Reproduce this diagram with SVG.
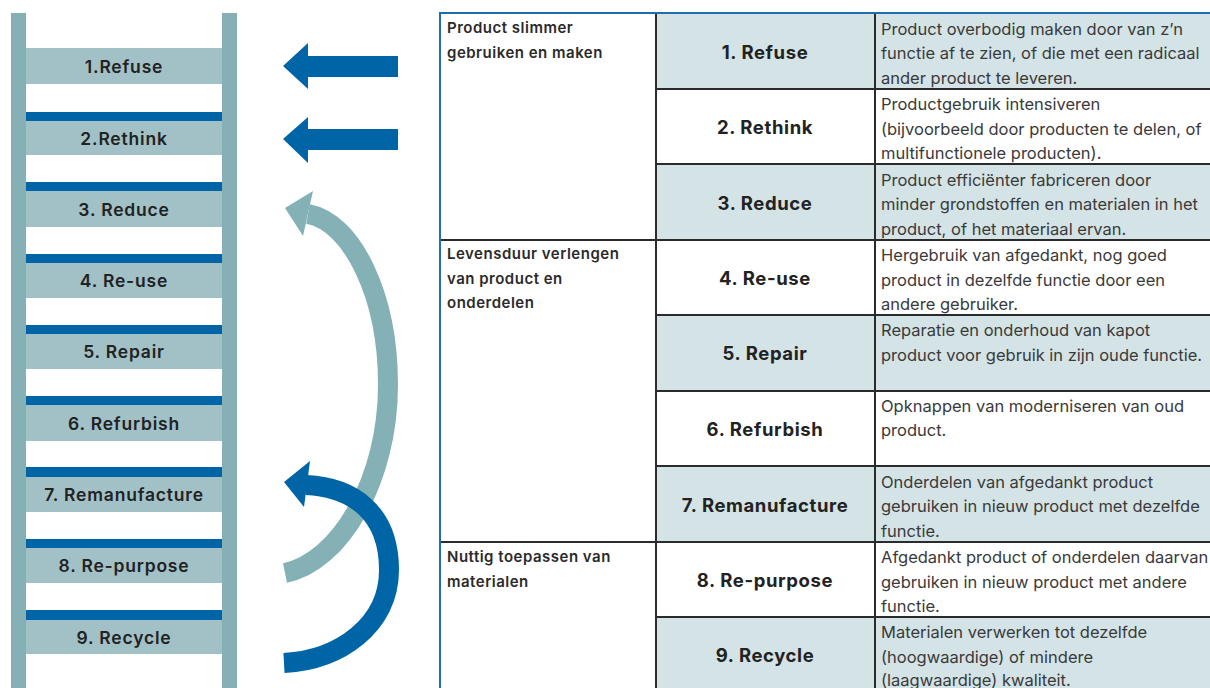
<svg xmlns="http://www.w3.org/2000/svg" width="1210" height="688" viewBox="0 0 1210 688">
<style>
.rail{fill:#84b0b6}
.box{fill:#a1c1c7}
.bar{fill:#0065a6}
.lad{font-family:Inter,"Noto Sans",sans-serif;font-weight:600;font-size:17.5px;letter-spacing:0.8px;fill:#222;text-anchor:middle}
.shade{fill:#d4e3e6}
.grid{stroke:#2b2b2b;stroke-width:2;fill:none}
.edge{stroke:#1f6cae;stroke-width:2;fill:none}
.c1{font-family:Inter,"Noto Sans",sans-serif;font-weight:600;font-size:15px;letter-spacing:0.5px;fill:#2a2a2a}
.c2{font-family:Inter,"Noto Sans",sans-serif;font-weight:700;font-size:18.5px;letter-spacing:0.6px;fill:#222;text-anchor:middle}
.c3{font-family:Inter,"Noto Sans",sans-serif;font-weight:400;font-size:16.5px;fill:#3a3a3a}
.tealarc{stroke:#84b1b6;stroke-width:20;fill:none}
.bluearc{stroke:#0065a6;stroke-width:20;fill:none}
</style>
<rect width="1210" height="688" fill="#fff"/>
<g id="ladder">
<g id="rung1"><rect class="box" x="26" y="48" width="196" height="36"/><text class="lad" x="124" y="72.5">1.Refuse</text></g>
<g id="rung2"><rect class="bar" x="24" y="112" width="199" height="9"/><rect class="box" x="26" y="121" width="196" height="34"/><text class="lad" x="124" y="144.5">2.Rethink</text></g>
<g id="rung3"><rect class="bar" x="24" y="182" width="199" height="9"/><rect class="box" x="26" y="191" width="196" height="36"/><text class="lad" x="124" y="215.5">3. Reduce</text></g>
<g id="rung4"><rect class="bar" x="24" y="254" width="199" height="9"/><rect class="box" x="26" y="263" width="196" height="35"/><text class="lad" x="124" y="287">4. Re-use</text></g>
<g id="rung5"><rect class="bar" x="24" y="325" width="199" height="9"/><rect class="box" x="26" y="334" width="196" height="35"/><text class="lad" x="124" y="358">5. Repair</text></g>
<g id="rung6"><rect class="bar" x="24" y="396" width="199" height="9"/><rect class="box" x="26" y="405" width="196" height="36"/><text class="lad" x="124" y="429.5">6. Refurbish</text></g>
<g id="rung7"><rect class="bar" x="24" y="467" width="199" height="10"/><rect class="box" x="26" y="477" width="196" height="35"/><text class="lad" x="124" y="501">7. Remanufacture</text></g>
<g id="rung8"><rect class="bar" x="24" y="539" width="199" height="9"/><rect class="box" x="26" y="548" width="196" height="35"/><text class="lad" x="124" y="572">8. Re-purpose</text></g>
<g id="rung9"><rect class="bar" x="24" y="610" width="199" height="10"/><rect class="box" x="26" y="620" width="196" height="34"/><text class="lad" x="124" y="643.5">9. Recycle</text></g>
<rect class="rail" x="11" y="13" width="15" height="675"/>
<rect class="rail" x="222" y="13" width="15" height="675"/>
</g>
<g id="connectors">
<polygon class="bar" points="283,66 308,43 308,56 398,56 398,77 308,77 308,89"/>
<polygon class="bar" points="283,139 308,117 308,129 398,129 398,150 308,150 308,163"/>
<path class="tealarc" d="M285,573 C340,562 388,480 388,385 C388,295 352,222 308,214"/>
<polygon fill="#84b1b6" points="285,208 313,191 303,236"/>
<path class="bluearc" d="M284,663 C340,660 389,625 389,570 C389,512 352,487 306,485"/>
<polygon class="bar" points="284,482 310,461 304,507"/>
</g>
<g id="table">
<g id="row1"><rect class="shade" x="656" y="13" width="554" height="76"/>
<text class="c1" x="447" y="33">Product slimmer</text><text class="c1" x="447" y="57.5">gebruiken en maken</text>
<text class="c2" x="765" y="58.5">1. Refuse</text>
<text class="c3" x="881" y="34.5">Product overbodig maken door van z’n</text><text class="c3" x="881" y="59">functie af te zien, of die met een radicaal</text><text class="c3" x="881" y="83.5">ander product te leveren.</text></g>
<g id="row2">
<text class="c2" x="765" y="134">2. Rethink</text>
<text class="c3" x="881" y="110">Productgebruik intensiveren</text><text class="c3" x="881" y="134.5">(bijvoorbeeld door producten te delen, of</text><text class="c3" x="881" y="159">multifunctionele producten).</text></g>
<g id="row3"><rect class="shade" x="656" y="164" width="554" height="76"/>
<text class="c2" x="765" y="209.5">3. Reduce</text>
<text class="c3" x="881" y="185.5">Product efficiënter fabriceren door</text><text class="c3" x="881" y="210">minder grondstoffen en materialen in het</text><text class="c3" x="881" y="234.5">product, of het materiaal ervan.</text></g>
<g id="row4">
<text class="c1" x="447" y="259">Levensduur verlengen</text><text class="c1" x="447" y="283.5">van product en</text><text class="c1" x="447" y="308">onderdelen</text>
<text class="c2" x="765" y="285">4. Re-use</text>
<text class="c3" x="881" y="261">Hergebruik van afgedankt, nog goed</text><text class="c3" x="881" y="285.5">product in dezelfde functie door een</text><text class="c3" x="881" y="310">andere gebruiker.</text></g>
<g id="row5"><rect class="shade" x="656" y="315" width="554" height="76"/>
<text class="c2" x="765" y="360">5. Repair</text>
<text class="c3" x="881" y="336">Reparatie en onderhoud van kapot</text><text class="c3" x="881" y="360.5">product voor gebruik in zijn oude functie.</text></g>
<g id="row6">
<text class="c2" x="765" y="436">6. Refurbish</text>
<text class="c3" x="881" y="411.5">Opknappen van moderniseren van oud</text><text class="c3" x="881" y="436">product.</text></g>
<g id="row7"><rect class="shade" x="656" y="466" width="554" height="76"/>
<text class="c2" x="765" y="511.5">7. Remanufacture</text>
<text class="c3" x="881" y="487.5">Onderdelen van afgedankt product</text><text class="c3" x="881" y="512">gebruiken in nieuw product met dezelfde</text><text class="c3" x="881" y="536.5">functie.</text></g>
<g id="row8">
<text class="c1" x="447" y="562">Nuttig toepassen van</text><text class="c1" x="447" y="586.5">materialen</text>
<text class="c2" x="765" y="587">8. Re-purpose</text>
<text class="c3" x="881" y="563">Afgedankt product of onderdelen daarvan</text><text class="c3" x="881" y="587.5">gebruiken in nieuw product met andere</text><text class="c3" x="881" y="612">functie.</text></g>
<g id="row9"><rect class="shade" x="656" y="617" width="554" height="71"/>
<text class="c2" x="765" y="662">9. Recycle</text>
<text class="c3" x="881" y="638">Materialen verwerken tot dezelfde</text><text class="c3" x="881" y="662.5">(hoogwaardige) of mindere</text><text class="c3" x="881" y="686">(laagwaardige) kwaliteit.</text></g>
<path class="grid" d="M656,13V688M875,13V688M656,89H1210M656,164H1210M440,240H1210M656,315H1210M656,391H1210M656,466H1210M440,542H1210M656,617H1210"/>
<path class="edge" d="M440,688V13H1210"/>
</g>
</svg>
